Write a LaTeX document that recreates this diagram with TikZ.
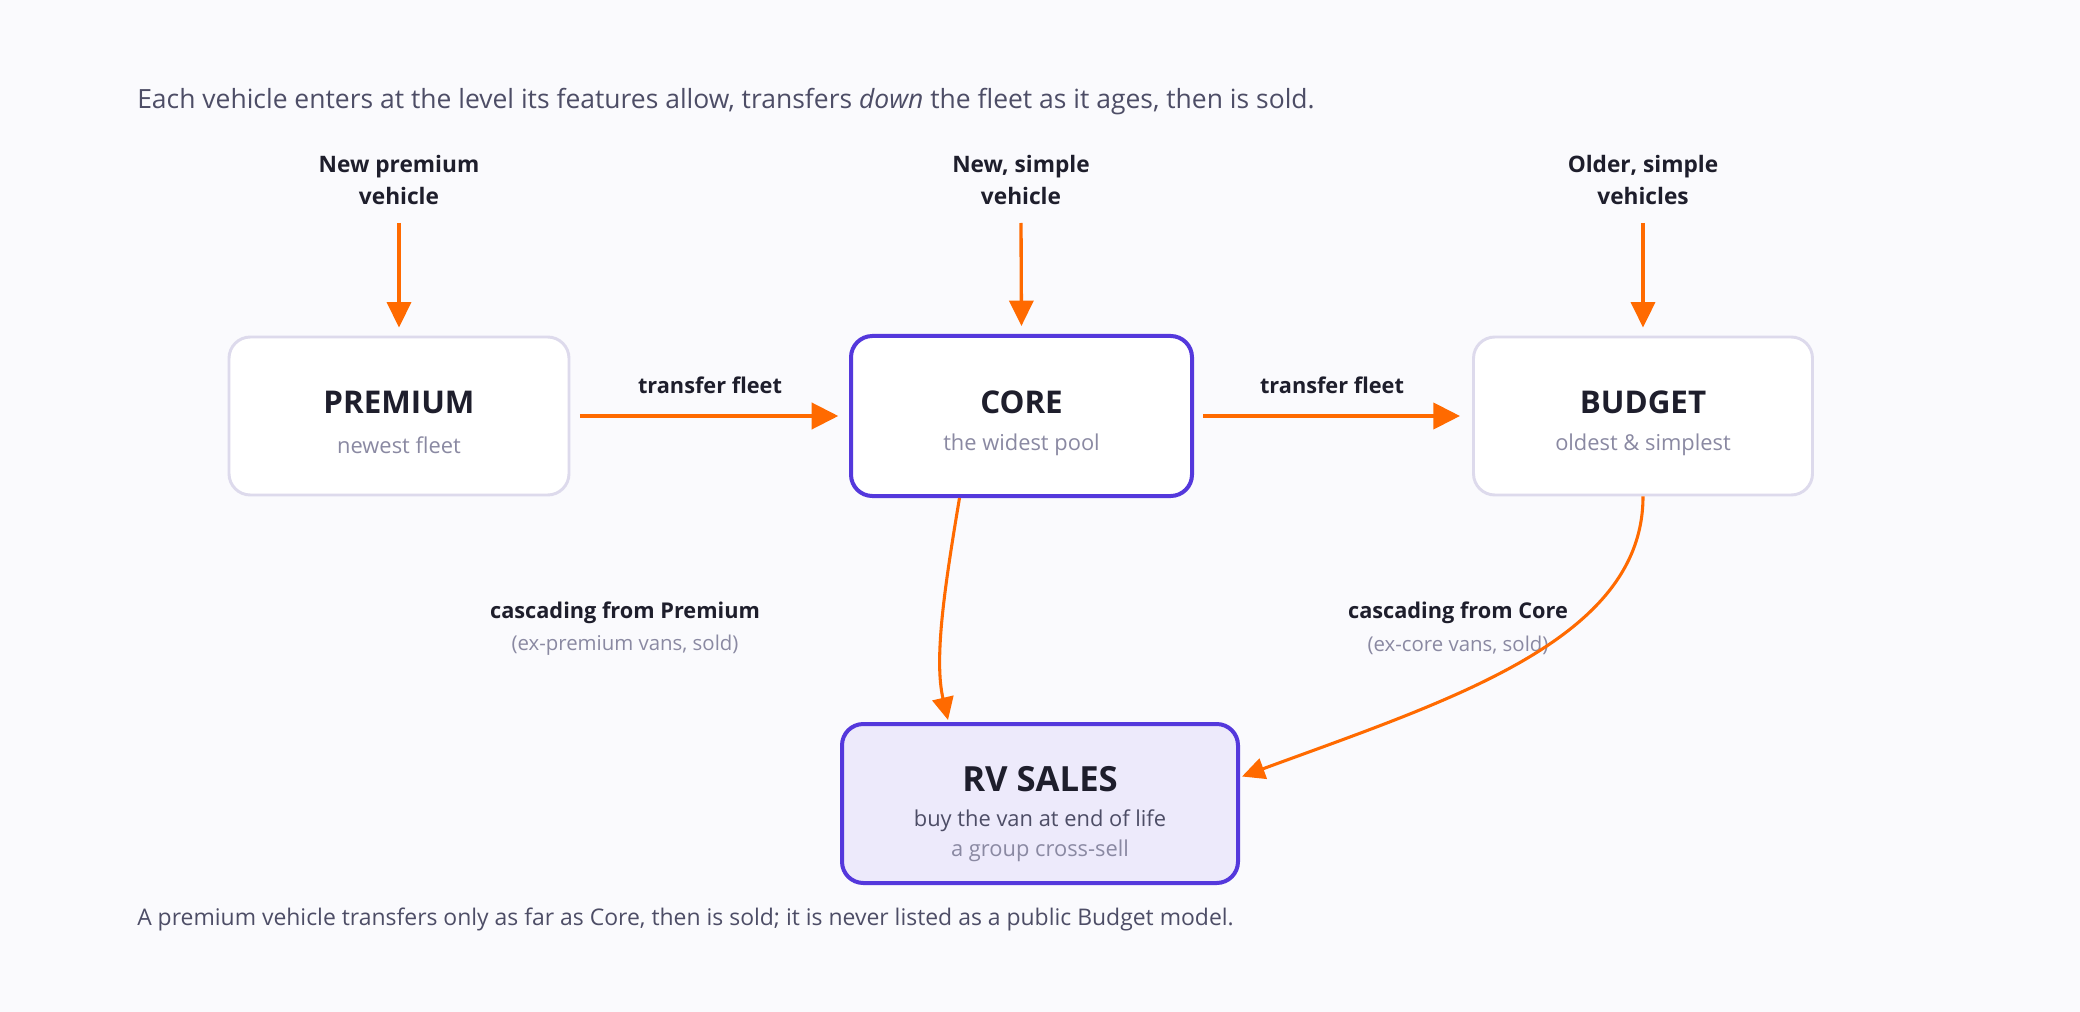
\documentclass[tikz,border=0pt]{standalone}
\usepackage{fontspec}
\setmainfont{Open Sans}
\usetikzlibrary{arrows.meta,calc}
\definecolor{bg}{HTML}{FAFAFD}
\definecolor{txt}{HTML}{4D4D66}
\definecolor{dark}{HTML}{1E1E2C}
\definecolor{sub}{HTML}{8A89A2}
\definecolor{orng}{HTML}{FF6A00}
\definecolor{purp}{HTML}{5438DC}
\definecolor{lite}{HTML}{DDDAEC}
\definecolor{rvfill}{HTML}{EDEAFB}
\newcommand{\fs}[1]{\fontsize{#1}{#1}\selectfont}
\tikzset{
  box/.style={draw=lite, line width=2.2pt, fill=white, rounded corners=16pt, inner sep=0pt},
  keybox/.style={draw=purp, line width=3pt, fill=white, rounded corners=16pt, inner sep=0pt},
  rvbox/.style={draw=purp, line width=3pt, fill=rvfill, rounded corners=16pt, inner sep=0pt},
  boxtitle/.style={text=dark, font=\fs{23.5pt}\bfseries, inner sep=0pt},
  boxsub/.style={text=sub, font=\fs{16.4pt}, inner sep=0pt},
  lbl/.style={text=dark, font=\fs{16.3pt}\bfseries, inner sep=0pt, align=center},
  srclbl/.style={text=dark, font=\fontsize{17pt}{24pt}\selectfont\bfseries, inner sep=0pt, align=center},
  lblsub/.style={text=sub, font=\fs{15.3pt}, inner sep=0pt},
  note/.style={text=txt, inner sep=0pt, anchor=west},
  inarrow/.style={draw=orng, line width=2.5pt, -{Triangle[length=19pt,width=18pt]}},
  bigarrow/.style={draw=orng, line width=3pt, -{Triangle[length=20pt,width=19.5pt]}},
  curvearrow/.style={draw=orng, line width=2.3pt, -{Triangle[length=17pt,width=16pt]}},
}
\begin{document}
\begin{tikzpicture}[x=0.75pt,y=-0.75pt]
\fill[bg] (0,0) rectangle (2080,1012);
\useasboundingbox (0,0) rectangle (2080,1012);

\node[note, font=\fs{19.85pt}] (title) at (137,102) {Each vehicle enters at the level its features allow, transfers \textit{down} the fleet as it ages, then is sold.};
\node[note, font=\fs{17.2pt}] (foot) at (137,919) {A premium vehicle transfers only as far as Core, then is sold; it is never listed as a public Budget model.};

% boxes
\node[box, minimum width=255pt, minimum height=118.5pt] (prem) at (399,416) {};
\node[keybox, minimum width=255.75pt, minimum height=120pt] (core) at (1021.5,416) {};
\node[box, minimum width=254.25pt, minimum height=118.5pt] (budg) at (1643,416) {};
\node[rvbox, minimum width=297pt, minimum height=119.25pt] (rv) at (1040,803.5) {};

\node[boxtitle] (premt) at (399,402) {PREMIUM};
\node[boxsub] (prems) at (399,445) {newest fleet};
\node[boxtitle] (coret) at (1021.5,402) {CORE};
\node[boxsub] (cores) at (1021.5,445) {the widest pool};
\node[boxtitle] (budgt) at (1643,402) {BUDGET};
\node[boxsub] (budgs) at (1643,445) {oldest \& simplest};
\node[boxtitle, font=\fs{26pt}\bfseries] (rvt) at (1040,779) {RV SALES};
\node[boxsub, text=txt] (rvs1) at (1040,821) {buy the van at end of life};
\node[boxsub] (rvs2) at (1040,851) {a group cross-sell};

% source labels
\node[srclbl] (srcp) at (399,180) {New premium\\vehicle};
\node[srclbl] (srcc) at (1021,180) {New, simple\\vehicle};
\node[srclbl] (srcb) at (1643,180) {Older, simple\\vehicles};
\coordinate (srcpe) at (399,223);
\coordinate (srcce) at (1021,223);
\coordinate (srcbe) at (1643,223);
\draw[inarrow, shorten >=6pt] (srcpe) -- (prem.north);
\draw[inarrow, shorten >=6pt] (srcce) -- (core.north);
\draw[inarrow, shorten >=6pt] (srcbe) -- (budg.north);

% transfer arrows
\node[lbl] (tf1) at (710,385) {transfer fleet};
\node[lbl] (tf2) at (1332,385) {transfer fleet};
\draw[bigarrow, shorten <=7pt, shorten >=8pt] (prem.east) -- (core.west);
\draw[bigarrow, shorten <=7pt, shorten >=9pt] (core.east) -- (budg.west);

% cascade labels
\node[lbl] (cp) at (625,613) {cascading from Premium};
\node[lblsub] (cps) at (625,645) {(ex-premium vans, sold)};
\node[lbl] (cc) at (1458,613) {cascading from Core};
\node[lblsub] (ccs) at (1458,645) {(ex-core vans, sold)};

% cascade curves
\draw[curvearrow] ($(core.south)+(-62,0)$) .. controls (944,590) and (934,660) .. ($(rv.north)+(-92,-2)$);
\draw[curvearrow] (budg.south) .. controls (1643,640) and (1450,700) .. ($(rv.east)+(2,-27)$);
\end{tikzpicture}
\end{document}
